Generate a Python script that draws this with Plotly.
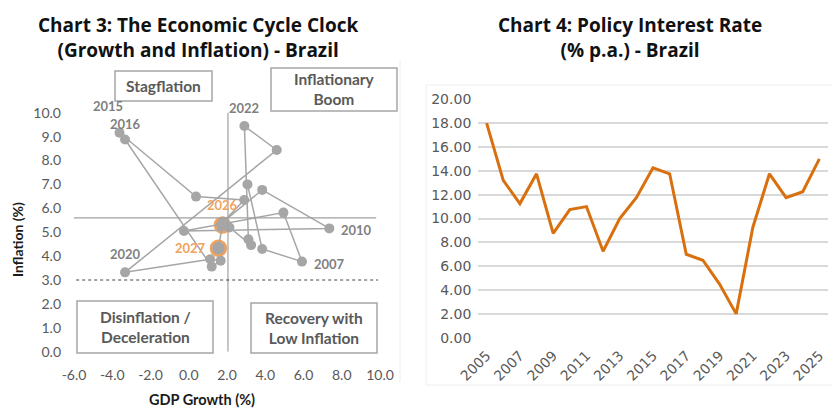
import plotly.graph_objects as go

# Chart 3: growth / inflation by year
years = list(range(2005, 2028))
gdp_growth = [3.07, 3.84, 5.92, 4.95, -0.25, 7.35, 3.84, 1.81, 2.90, 0.38, -3.62, -3.33,
              1.20, 1.67, 1.12, -3.33, 4.60, 2.91, 3.12, 3.26, 2.13, 1.76, 1.55]
inflation = [7.00, 4.30, 3.77, 5.82, 5.05, 5.16, 6.77, 5.44, 6.35, 6.49, 9.16, 8.88,
             3.56, 3.81, 3.87, 3.32, 8.44, 9.44, 4.70, 4.46, 5.20, 5.30, 4.33]
forecast_years = [2026, 2027]
labelled_years = [2015, 2016, 2022, 2010, 2007, 2020]

avg_growth = 2.05
avg_inflation = 5.6
inflation_target = 3.0

x_ticks = [-6, -4, -2, 0, 2, 4, 6, 8, 10]
y_ticks = list(range(0, 11))

# Chart 4: policy rate
rate_years = list(range(2005, 2026))
policy_rate = [18.0, 13.2, 11.25, 13.75, 8.75, 10.75, 11.0, 7.25, 10.0, 11.75, 14.25,
               13.75, 7.0, 6.5, 4.5, 2.0, 9.25, 13.75, 11.75, 12.25, 15.0]

# the page body keeps its default 8px margin, so the figure is drawn 8px in
OFF = 8
W, H = 840 - OFF, 420 - OFF


def px(x):
    return (x - OFF) / W


def py(y):
    return 1 - (y - OFF) / H


GRAY = "#a6a6a6"
TXT = "#595959"
ORANGE = "#f0a35e"

fig = go.Figure()

# forecast rings below the main series
fc_idx = [years.index(y) for y in forecast_years]
fig.add_trace(go.Scatter(
    x=[gdp_growth[i] for i in fc_idx], y=[inflation[i] for i in fc_idx],
    mode="markers", xaxis="x", yaxis="y",
    marker=dict(size=15, color=GRAY, line=dict(color=ORANGE, width=2.5)),
    hoverinfo="skip", showlegend=False))

fig.add_trace(go.Scatter(
    x=gdp_growth, y=inflation, mode="lines+markers", xaxis="x", yaxis="y",
    line=dict(color=GRAY, width=1.5),
    marker=dict(size=10, color=GRAY),
    text=[str(y) for y in years], showlegend=False))

fig.add_trace(go.Scatter(
    x=rate_years, y=policy_rate, mode="lines", xaxis="x2", yaxis="y2",
    line=dict(color="#d9700f", width=3), showlegend=False))

# reference lines
ref_lines = [
    dict(type="line", xref="x", yref="y", x0=-6, x1=9.8, y0=avg_inflation, y1=avg_inflation,
         line=dict(color="#a0a0a0", width=1.2)),
    dict(type="line", xref="x", yref="y", x0=avg_growth, x1=avg_growth, y0=0, y1=10.1,
         line=dict(color="#a0a0a0", width=1.2)),
    dict(type="line", xref="x", yref="y", x0=-6.2, x1=9.9, y0=inflation_target, y1=inflation_target,
         line=dict(color="#404040", width=1, dash="dot")),
]

# quadrant boxes (pixel positions in the 840x420 window)
boxes = [
    ("Stagflation", 115, 71, 212, 101),
    ("Inflationary<br>Boom", 271, 68, 397, 111),
    ("Disinflation /<br>Deceleration", 77, 301, 213, 353),
    ("Recovery with<br>Low Inflation", 251, 303, 377, 353),
]
shapes = list(ref_lines)
annotations = []
for label, x0, y0, x1, y1 in boxes:
    shapes.append(dict(type="rect", xref="paper", yref="paper",
                       x0=px(x0), x1=px(x1), y0=py(y1), y1=py(y0),
                       line=dict(color=GRAY, width=1.5), layer="below"))
    annotations.append(dict(xref="paper", yref="paper", x=px((x0 + x1) / 2), y=py((y0 + y1) / 2),
                            xanchor="center", yanchor="middle", text=label, showarrow=False,
                            font=dict(family="Lato", size=15.5, color=TXT, weight="bold")))

# faint chart frames
shapes.append(dict(type="line", xref="paper", yref="paper", x0=px(400), x1=px(400),
                   y0=py(382), y1=py(60), line=dict(color="#eeeeee", width=1)))
shapes.append(dict(type="rect", xref="paper", yref="paper", x0=px(426), x1=px(835),
                   y0=py(385), y1=py(85), line=dict(color="#eeeeee", width=1)))

# year labels: (dx, dy, anchor)
offsets = {2015: (-12, 27, "center"), 2016: (0, 15, "center"), 2022: (0, 18, "center"),
           2010: (10, -2, "left"), 2007: (10, -2, "left"), 2020: (0, 18, "center")}
for y in labelled_years:
    i = years.index(y)
    dx, dy, anc = offsets[y]
    annotations.append(dict(x=gdp_growth[i], y=inflation[i], xref="x", yref="y",
                            text=str(y), showarrow=False, xshift=dx, yshift=dy, xanchor=anc,
                            font=dict(family="Lato", size=13, color="#7f7f7f", weight="bold")))
fc_offsets = {2026: (0, 20, "center"), 2027: (-10, 0, "right")}
for y in forecast_years:
    i = years.index(y)
    dx, dy, anc = fc_offsets[y]
    annotations.append(dict(x=gdp_growth[i], y=inflation[i], xref="x", yref="y",
                            text=str(y), showarrow=False, xshift=dx, yshift=dy, xanchor=anc,
                            font=dict(family="Lato", size=13, color=ORANGE, weight="bold")))

# titles and axis titles
title_font = dict(family="Open Sans", size=19, color="#111111", weight="bold")
annotations += [
    dict(xref="paper", yref="paper", x=px(198), y=py(38), showarrow=False,
         xanchor="center", yanchor="middle",
         text="Chart 3: The Economic Cycle Clock<br>(Growth and Inflation) - Brazil", font=title_font),
    dict(xref="paper", yref="paper", x=px(630), y=py(38), showarrow=False,
         xanchor="center", yanchor="middle",
         text="Chart 4: Policy Interest Rate<br>(% p.a.) - Brazil", font=title_font),
    dict(xref="paper", yref="paper", x=px(17), y=py(240), showarrow=False, textangle=-90,
         xanchor="center", yanchor="middle",
         text="Inflation (%)", font=dict(family="Lato", size=14, color="#1a1a1a", weight="bold")),
    dict(xref="paper", yref="paper", x=px(202), y=py(399), showarrow=False,
         xanchor="center", yanchor="middle",
         text="GDP Growth (%)", font=dict(family="Lato", size=14.5, color="#1a1a1a", weight="bold")),
]

tick_font = dict(family="Lato", size=14, color=TXT)
rate_font = dict(family="DejaVu Sans", size=14, color=TXT)
fig.update_layout(
    width=W, height=H, margin=dict(l=0, r=0, t=0, b=0, autoexpand=False),
    paper_bgcolor="white", plot_bgcolor="white",
    xaxis=dict(domain=[px(74), px(380)], range=[-6, 10], tickvals=x_ticks,
               ticktext=[f"{v:.1f}" for v in x_ticks], automargin=False,
               showgrid=False, zeroline=False, showline=False, ticks="",
               ticklabelstandoff=13, tickfont=tick_font, anchor="y"),
    yaxis=dict(domain=[py(351.7), py(112.7)], range=[0, 10], tickvals=y_ticks,
               ticktext=[f"{v:.1f}" for v in y_ticks], automargin=False,
               showgrid=False, zeroline=False, showline=False, ticks="",
               ticklabelstandoff=12, tickfont=tick_font, anchor="x"),
    xaxis2=dict(domain=[px(478.3), px(827.7)], range=[2004.5, 2025.5], automargin=False,
                tickvals=list(range(2005, 2026, 2)), tickangle=-45, showgrid=False,
                zeroline=False, showline=False, ticks="", ticklabelstandoff=6,
                tickfont=rate_font, anchor="y2"),
    yaxis2=dict(domain=[py(337.7), py(99.3)], range=[0, 20], dtick=2, tickformat=".2f",
                automargin=False, showgrid=True, gridcolor="#d9d9d9", gridwidth=1.5,
                zeroline=False, showline=False, ticks="", ticklabelstandoff=6,
                tickfont=rate_font, anchor="x2"),
    shapes=shapes, annotations=annotations,
)

fig.write_html("out.html")
